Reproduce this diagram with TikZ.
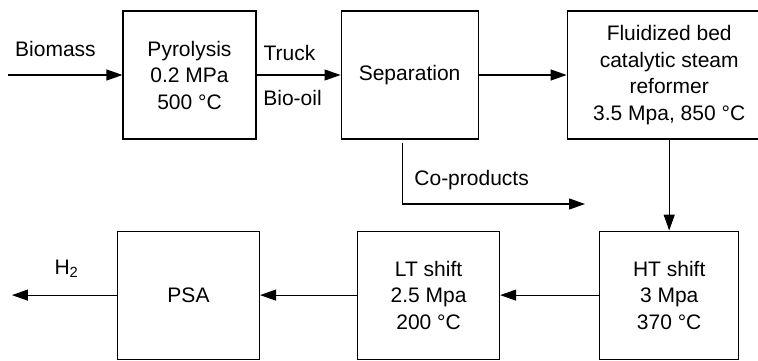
\documentclass[tikz,border=0pt]{standalone}
\usepackage{fontspec}
\setmainfont{Liberation Sans}
\usepackage{tikz}
\usetikzlibrary{arrows.meta,positioning,calc}

\begin{document}
\begin{tikzpicture}[
  x=1pt, y=-1pt,
  line width=1.1pt,
  >={Triangle[length=16pt,width=11pt]},
  blk/.style={rectangle, draw, minimum width=140pt, minimum height=128pt, align=center, font=\fontsize{21}{26.5}\selectfont},
  lbl/.style={inner sep=0pt, anchor=base, font=\fontsize{21}{26.5}\selectfont}
]
\useasboundingbox (0,0) rectangle (758,361);

\node[blk, minimum width=133pt] (pyro) at (189.5,75) {Pyrolysis\\0.2 MPa\\500 °C};
\node[blk, minimum width=137pt, right=84pt of pyro] (sep) {Separation};
\node[blk, minimum width=204pt, right=88pt of sep] (reform) {Fluidized bed\\catalytic steam\\reformer\\3.5 Mpa, 850 °C};
\node[blk, minimum width=139pt, below=91pt of reform] (ht) {HT shift\\3 Mpa\\370 °C};
\node[blk, minimum width=142pt, left=99pt of ht] (lt) {LT shift\\2.5 Mpa\\200 °C};
\node[blk, minimum width=142pt, left=97pt of lt] (psa) {PSA};

\coordinate[left=114pt of pyro.west] (bioin);
\coordinate[left=105pt of psa.west] (h2out);
\coordinate (cpend) at (585,204);

\draw[->] (bioin) -- node[lbl, yshift=18pt, xshift=-10pt] {Biomass} (pyro);
\draw[->] (pyro) -- node[lbl, yshift=15pt, xshift=-9pt] {Truck} node[lbl, yshift=-31pt, xshift=-6pt] {Bio-oil} (sep);
\draw[->] (sep) -- (reform);
\draw[->] (reform) -- (ht);
\draw[->] ([xshift=-7.5pt,yshift=-3pt]sep.south) |- node[lbl, pos=0.69, yshift=19pt] {Co-products} (cpend);
\draw[->] (ht) -- (lt);
\draw[->] (lt) -- (psa);
\draw[->] (psa) -- node[lbl, yshift=21pt, xshift=2pt] {H\textsubscript{2}} (h2out);

\end{tikzpicture}
\end{document}
